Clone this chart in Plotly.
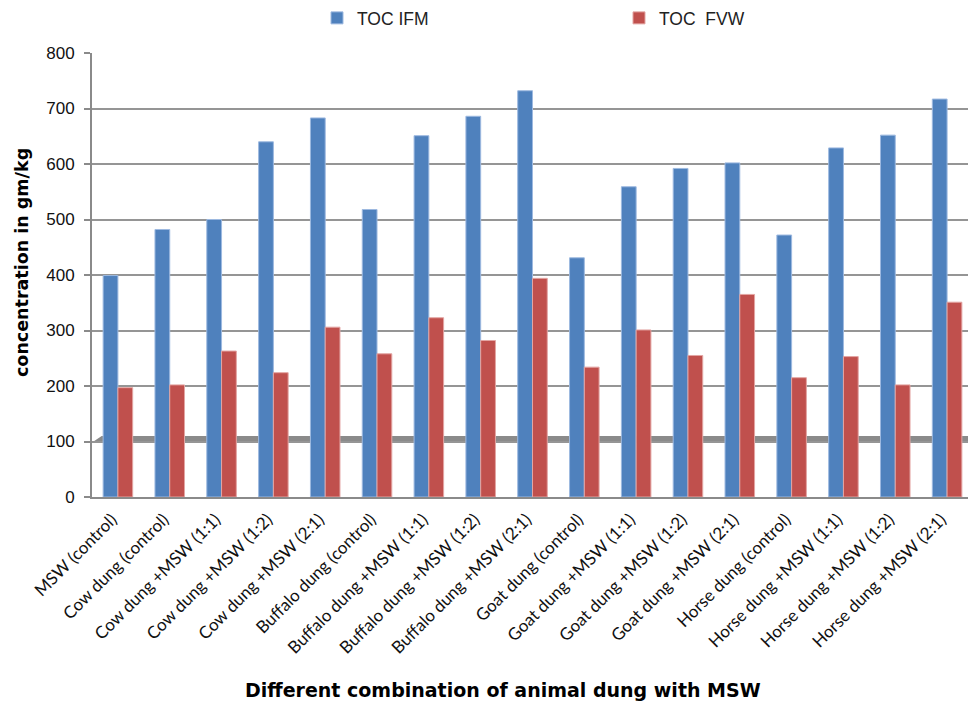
import plotly.graph_objects as go

categories = [
    "MSW (control)", "Cow dung (control)", "Cow dung +MSW (1:1)", "Cow dung +MSW (1:2)",
    "Cow dung +MSW (2:1)", "Buffalo dung (control)", "Buffalo dung +MSW (1:1)",
    "Buffalo dung +MSW (1:2)", "Buffalo dung +MSW (2:1)", "Goat dung (control)",
    "Goat dung +MSW (1:1)", "Goat dung +MSW (1:2)", "Goat dung +MSW (2:1)",
    "Horse dung (control)", "Horse dung +MSW (1:1)", "Horse dung +MSW (1:2)",
    "Horse dung +MSW (2:1)",
]
toc_ifm = [399, 482, 500, 640, 683, 518, 651, 686, 732, 431, 559, 592, 602, 472, 629, 652, 717]
toc_fvw = [197, 202, 263, 224, 306, 258, 323, 282, 394, 234, 301, 255, 365, 215, 253, 202, 351]
y_ticks = [0, 100, 200, 300, 400, 500, 600, 700, 800]
x_title = "Different combination of animal dung with MSW"
y_title = "concentration in gm/kg"

# page body has an 8px default margin, so the figure is drawn 8px in from the corner
W, H = 968, 693

fig = go.Figure()
fig.add_trace(go.Bar(name="TOC IFM", x=categories, y=toc_ifm,
                     marker=dict(color="#4F81BD", line=dict(color="#9DB9E0", width=1))))
fig.add_trace(go.Bar(name="TOC  FVW", x=categories, y=toc_fvw,
                     marker=dict(color="#C0504D", line=dict(color="#E3A5A3", width=1))))

# grey "floor" band near 100
fig.add_shape(type="path", xref="paper", yref="y", layer="below",
              path="M 0,98 L 0.994,98 L 1.003,110 L 0.011,110 Z",
              fillcolor="#8a8a8a", line=dict(width=0))

fig.add_annotation(text=x_title, xref="paper", yref="paper",
                   x=(503 - 92) / 881, y=-(690 - 497) / 444,
                   xanchor="center", yanchor="middle", showarrow=False,
                   font=dict(family="DejaVu Sans", size=19, color="black", weight="bold"))
fig.add_annotation(text=y_title, xref="paper", yref="paper",
                   x=-(92 - 22) / 881, y=(497 - 263) / 444, textangle=-90,
                   xanchor="center", yanchor="middle", showarrow=False,
                   font=dict(family="DejaVu Sans", size=17.5, color="black", weight="bold"))

fig.update_layout(
    width=W, height=H,
    margin=dict(l=84, r=3, t=45, b=204, autoexpand=False),
    paper_bgcolor="white", plot_bgcolor="white",
    barmode="group", bargap=0.43, bargroupgap=0,
    font=dict(family="Liberation Sans, Arial, sans-serif", size=15, color="#222"),
    legend=dict(orientation="h", xref="container", yref="container",
                x=309 / W, xanchor="left", y=1 - 10 / H, yanchor="middle",
                entrywidth=257, entrywidthmode="pixels",
                font=dict(size=17.5, color="#222"), itemclick=False),
    xaxis=dict(
        tickangle=-45, automargin=False,
        tickfont=dict(family="Lato, Open Sans, sans-serif", size=17, color="#111"),
        showline=True, linecolor="#8a8a8a", linewidth=2,
        ticks="", showgrid=False, ticklabelstandoff=4, ticklabelshift=-6,
    ),
    yaxis=dict(
        range=[0, 800], tickvals=y_ticks, automargin=False,
        showgrid=True, gridcolor="#959595", gridwidth=1.5,
        showline=True, linecolor="#8a8a8a", linewidth=2,
        ticks="outside", ticklen=6, tickcolor="#8a8a8a", tickwidth=1.5,
        ticklabelstandoff=6,
        tickfont=dict(size=17, color="#111"),
        zeroline=False,
    ),
)

fig.write_html("out.html")
